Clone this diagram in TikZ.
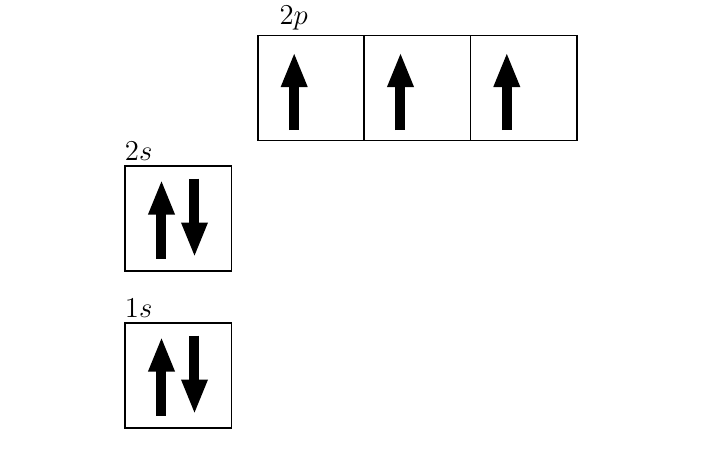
\documentclass[tikz,border=0pt]{standalone}
\usepackage{amsmath}
\usetikzlibrary{arrows.meta,calc}

\begin{document}
\begin{tikzpicture}[x=0.5pt,y=-0.5pt,
orbital/.style={draw=black,line width=0.8pt,minimum width=53.2pt,minimum height=52.5pt,inner sep=0pt},
spin/.style={-{Triangle[length=17.5pt,width=12pt]},line width=5pt,draw=black},
sublabel/.style={anchor=south west,inner xsep=0pt,inner ysep=2pt,font=\Large}]
\useasboundingbox (0,0) rectangle (720,450);
% boxes
\node[orbital] (s1) at (178.5,375.5) {};
\node[orbital] (s2) at (178.5,218.5) {};
\foreach \i/\x in {1/311.2,2/417.5,3/523.8} \node[orbital] (p\i) at (\x,88) {};
% labels
\node[sublabel] (l1s) at (s1.north west) {$1s$};
\node[sublabel] (l2s) at (s2.north west) {$2s$};
\node[sublabel,xshift=11pt] (l2p) at (p1.north west) {$2p$};
% electrons
\foreach \b in {s1,s2}{
\draw[spin] ($(\b)+(-17,40)$) -- ($(\b)+(-17,-39)$);
\draw[spin] ($(\b)+(16,-40)$) -- ($(\b)+(16,39)$);}
\foreach \b in {p1,p2,p3} \draw[spin] ($(\b)+(-17,42)$) -- ($(\b)+(-17,-36)$);
\end{tikzpicture}
\end{document}
